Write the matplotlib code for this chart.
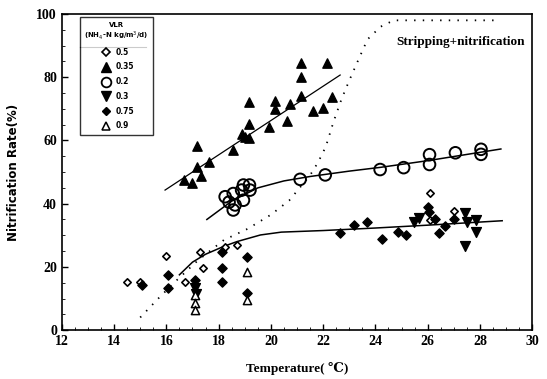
import matplotlib.pyplot as plt
from matplotlib.lines import Line2D
from matplotlib.ticker import MultipleLocator

# VLR = 0.35 (filled up-triangles)
t_035 = [16.67, 17.0, 17.33, 17.16, 17.16, 17.63, 18.54, 19.15, 19.15, 19.01, 19.15, 18.9,
         19.93, 20.15, 20.15, 20.74, 20.63, 21.16, 21.16, 21.16, 22.14, 21.6, 22.0, 22.33]
r_035 = [47.5, 46.4, 48.7, 51.7, 58.2, 53.2, 57, 65.2, 72.2, 61.2, 60.7, 62,
         64.3, 72.6, 69.9, 71.4, 66.1, 84.4, 80.2, 74.2, 84.4, 69.3, 70.4, 73.6]

# VLR = 0.2 (open circles)
t_02 = [18.25, 18.56, 18.88, 19.18, 19.2, 18.95, 18.63, 18.56, 18.95, 18.4,
        21.12, 22.08, 24.18, 25.08, 26.07, 26.07, 27.06, 28.04, 28.04]
r_02 = [42.2, 43.2, 44.3, 45.9, 44.3, 41.1, 39.6, 38, 45.9, 40.5,
        47.7, 49.1, 50.8, 51.4, 55.5, 52.4, 56.1, 57.2, 55.6]

# VLR = 0.5 (open small diamonds)
t_05 = [14.48, 14.99, 15.98, 17.29, 16.71, 17.41, 18.25, 18.69, 26.07, 26.07, 27.02]
r_05 = [15.3, 15.3, 23.4, 24.8, 15.3, 19.5, 26.4, 26.9, 43.3, 34.8, 37.7]

# VLR = 0.3 (filled down-triangles)
t_03 = [17.1, 17.15, 25.46, 25.68, 27.44, 27.5, 27.44, 27.85, 27.85]
r_03 = [13.3, 11.5, 34.3, 35.5, 36.9, 34.3, 26.7, 34.8, 30.9]

# VLR = 0.75 (filled diamonds)
t_075 = [15.05, 16.07, 16.07, 17.1, 18.12, 18.12, 18.12, 19.1, 19.1,
         22.65, 23.19, 23.67, 24.27, 24.86, 25.18, 26.06, 26.01, 26.29, 26.42, 26.67, 26.99]
r_075 = [14.2, 17.4, 13.2, 15.8, 24.8, 19.5, 15.1, 23.2, 11.6,
         30.6, 33.4, 34.1, 28.8, 30.9, 30.1, 37.4, 39, 35, 30.8, 32.9, 35]

# VLR = 0.9 (open triangles)
t_09 = [17.1, 17.1, 17.1, 19.07, 19.07]
r_09 = [11, 8.5, 6.5, 18.5, 9.5]

# fitted curves
fit_035_t = [15.95, 22.65]
fit_035_r = [44.3, 80.7]
fit_02_t = [17.55, 18.5, 19.5, 20.5, 21.5, 23, 24.2, 26, 28.8]
fit_02_r = [35, 40.8, 45, 47.2, 48.6, 50.3, 51.5, 53.6, 57.3]
fit_low_t = [16.5, 17.0, 17.5, 18.2, 18.7, 19.6, 20.4, 22, 24, 26, 28.85]
fit_low_r = [17.5, 21.5, 24, 26.5, 28, 30.1, 31, 31.5, 32.3, 33.2, 34.6]
strip_t = [15, 15.75, 16.4, 17.2, 18.2, 19.1, 20, 20.7, 21.1, 21.5, 21.8, 22.1,
           22.4, 22.7, 23.0, 23.4, 23.7, 24.2, 24.7, 26, 28.7]
strip_r = [4, 10.5, 15.8, 22, 28.5, 32, 36.5, 41, 45, 49, 53, 58,
           66, 73, 79, 86.5, 92, 96, 98, 98, 98]

serif = ['Liberation Serif', 'DejaVu Serif']

fig = plt.figure(figsize=(5.47, 3.79), dpi=100)
ax = fig.add_axes([0.113, 0.129, 0.86, 0.834])

ax.plot(fit_035_t, fit_035_r, color='black', lw=0.9)
ax.plot(fit_02_t, fit_02_r, color='black', lw=1.1)
ax.plot(fit_low_t, fit_low_r, color='black', lw=1.1)
ax.plot(strip_t, strip_r, color='black', lw=1.3, linestyle=(0, (0.8, 4)))

ax.scatter(t_05, r_05, marker='D', s=14, facecolor='white', edgecolor='black', linewidths=1.2, zorder=3)
ax.scatter(t_035, r_035, marker='^', s=45, color='black', zorder=3)
ax.scatter(t_02, r_02, marker='o', s=70, facecolor='none', edgecolor='black', linewidths=1.4, zorder=3)
ax.scatter(t_03, r_03, marker='v', s=50, color='black', zorder=3)
ax.scatter(t_075, r_075, marker='D', s=22, color='black', zorder=3)
ax.scatter(t_09, r_09, marker='^', s=35, facecolor='white', edgecolor='black', linewidths=1.1, zorder=3)

ax.set_xlim(12, 30)
ax.set_ylim(0, 100)
ax.xaxis.set_major_locator(MultipleLocator(2))
ax.yaxis.set_major_locator(MultipleLocator(20))
ax.xaxis.set_minor_locator(MultipleLocator(0.5))
ax.yaxis.set_minor_locator(MultipleLocator(5))
ax.tick_params(which='major', direction='in', length=4, width=1)
ax.tick_params(which='minor', direction='in', length=2, width=0.6)
ax.tick_params(top=False, right=False)
for lab in ax.get_xticklabels() + ax.get_yticklabels():
    lab.set_family(serif)
    lab.set_fontweight('bold')
    lab.set_fontsize(10)
for s in ax.spines.values():
    s.set_linewidth(1.2)

ax.set_xlabel('Temperature( ℃)', family=serif, fontweight='bold', fontsize=9.5, labelpad=10)
ax.set_ylabel('Nitrification Rate(%)', family='DejaVu Sans', fontweight='bold', fontsize=8.5, labelpad=12)

ax.text(27.25, 91, 'Stripping+nitrification', family=serif, fontweight='bold',
        fontsize=9.5, ha='center', va='center')

handles = [
    Line2D([], [], marker='D', ls='none', ms=4, mfc='white', mec='black', mew=1.2),
    Line2D([], [], marker='^', ls='none', ms=7, color='black'),
    Line2D([], [], marker='o', ls='none', ms=7, mfc='none', mec='black', mew=1.3),
    Line2D([], [], marker='v', ls='none', ms=7, color='black'),
    Line2D([], [], marker='D', ls='none', ms=4.5, color='black'),
    Line2D([], [], marker='^', ls='none', ms=6, mfc='white', mec='black', mew=1.1),
]
labels = ['0.5', '0.35', '0.2', '0.3', '0.75', '0.9']
leg = ax.legend(handles, labels, title='VLR\n(NH$_4$-N kg/m$^3$/d)', loc='upper left',
                bbox_to_anchor=(0.038, 0.99), fontsize=5.5, title_fontsize=5,
                frameon=True, fancybox=False, edgecolor='black', borderpad=0.6,
                labelspacing=0.75, handletextpad=0.3, borderaxespad=0, alignment='center')
leg.get_frame().set_linewidth(1)
leg.get_title().set_fontweight('bold')
leg.get_title().set_multialignment('center')
for t in leg.get_texts():
    t.set_fontweight('bold')
ax.plot([0.038, 0.18], [0.895, 0.895], transform=ax.transAxes, color='black', lw=0.8, zorder=5)

fig.savefig('out.png', dpi=100)
